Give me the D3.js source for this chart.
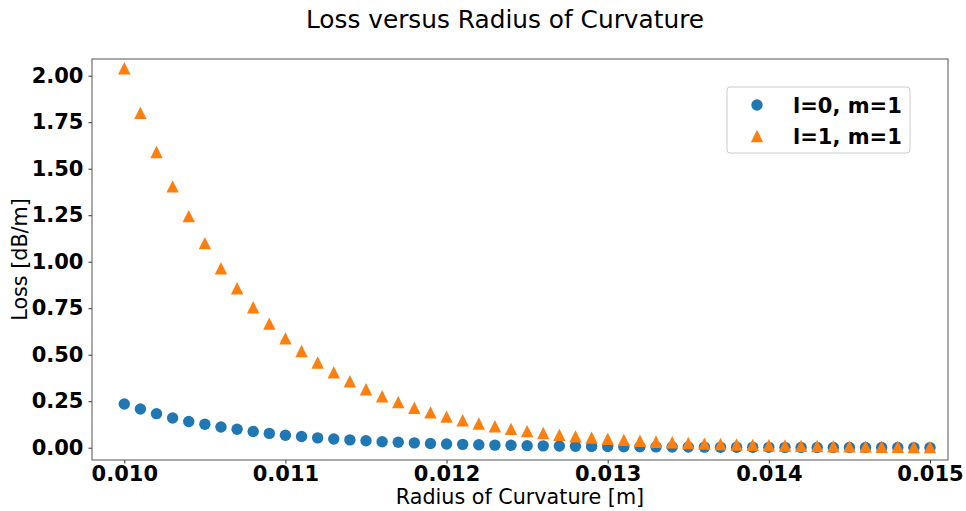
<!DOCTYPE html>
<html>
<head>
<meta charset="utf-8">
<script src="https://cdn.jsdelivr.net/npm/d3@7"></script>
<style>
  body { margin: 0; background: #fff; }
  svg text { font-family: "DejaVu Sans", sans-serif; fill: #000; }
  .tick text { font-weight: bold; font-size: 21px; }
  .tick line { stroke: #333; }
</style>
</head>
<body>
<svg id="chart" width="966" height="511"></svg>
<script>
// radius of curvature [m]
const radii = [
  0.0100, 0.0101, 0.0102, 0.0103, 0.0104, 0.0105, 0.0106, 0.0107, 0.0108, 0.0109,
  0.0110, 0.0111, 0.0112, 0.0113, 0.0114, 0.0115, 0.0116, 0.0117, 0.0118, 0.0119,
  0.0120, 0.0121, 0.0122, 0.0123, 0.0124, 0.0125, 0.0126, 0.0127, 0.0128, 0.0129,
  0.0130, 0.0131, 0.0132, 0.0133, 0.0134, 0.0135, 0.0136, 0.0137, 0.0138, 0.0139,
  0.0140, 0.0141, 0.0142, 0.0143, 0.0144, 0.0145, 0.0146, 0.0147, 0.0148, 0.0149,
  0.0150
];

// loss [dB/m], mode l=0, m=1
const lossL0M1 = [
  0.235, 0.208, 0.183, 0.160, 0.141, 0.126, 0.111, 0.099, 0.087, 0.077,
  0.067, 0.060, 0.053, 0.047, 0.042, 0.037, 0.032, 0.029, 0.026, 0.023,
  0.020, 0.018, 0.016, 0.014, 0.013, 0.011, 0.010, 0.009, 0.008, 0.007,
  0.006, 0.0055, 0.005, 0.0045, 0.004, 0.0035, 0.003, 0.0028, 0.0025, 0.0022,
  0.002, 0.0018, 0.0016, 0.0014, 0.0013, 0.0011, 0.001, 0.0009, 0.0008, 0.0007,
  0.0006
];

// loss [dB/m], mode l=1, m=1
const lossL1M1 = [
  2.04, 1.80, 1.59, 1.405, 1.245, 1.10, 0.965, 0.857, 0.755, 0.667,
  0.588, 0.52, 0.458, 0.405, 0.357, 0.314, 0.277, 0.245, 0.215, 0.19,
  0.167, 0.148, 0.130, 0.115, 0.101, 0.089, 0.079, 0.069, 0.061, 0.054,
  0.048, 0.042, 0.037, 0.032, 0.029, 0.025, 0.022, 0.020, 0.017, 0.015,
  0.013, 0.012, 0.010, 0.009, 0.008, 0.007, 0.006, 0.0055, 0.005, 0.004,
  0.004
];

const xTicks = [0.010, 0.011, 0.012, 0.013, 0.014, 0.015];
const yTicks = [0, 0.25, 0.5, 0.75, 1.0, 1.25, 1.5, 1.75, 2.0];
const seriesNames = ["l=0, m=1", "l=1, m=1"];
const colors = ["#1f77b4", "#ff7f0e"];

const svg = d3.select("#chart");
const margin = { top: 59, right: 18, bottom: 51, left: 92 };
const width = 966 - margin.left - margin.right;
const height = 511 - margin.top - margin.bottom;

const x = d3.scaleLinear().domain([0.0097996, 0.0151117]).range([0, width]);
const y = d3.scaleLinear().domain([-0.0661, 2.0898]).range([height, 0]);

const g = svg.append("g").attr("transform", `translate(${margin.left},${margin.top})`);

// axes
const xAxis = g.append("g")
  .attr("transform", `translate(0,${height})`)
  .call(d3.axisBottom(x).tickValues(xTicks).tickFormat(d3.format(".3f")).tickSize(3.5).tickPadding(2.5));
const yAxis = g.append("g")
  .call(d3.axisLeft(y).tickValues(yTicks).tickFormat(d3.format(".2f")).tickSize(3.5).tickPadding(5));
xAxis.select(".domain").remove();
yAxis.select(".domain").remove();

// frame
g.append("rect")
  .attr("width", width).attr("height", height)
  .attr("fill", "none").attr("stroke", "#555").attr("stroke-width", 1);

// markers
const tri = (s) => `M0,${-s}L${s},${s}L${-s},${s}Z`;

g.append("g").selectAll("circle")
  .data(radii.map((r, i) => [r, lossL0M1[i]]))
  .join("circle")
  .attr("cx", d => x(d[0]))
  .attr("cy", d => y(d[1]))
  .attr("r", 5.7)
  .attr("fill", colors[0]);

g.append("g").selectAll("path")
  .data(radii.map((r, i) => [r, lossL1M1[i]]))
  .join("path")
  .attr("transform", d => `translate(${x(d[0])},${y(d[1])})`)
  .attr("d", tri(6.2))
  .attr("fill", colors[1]);

// legend
const legend = g.append("g").attr("transform", "translate(635,28)");
legend.append("rect")
  .attr("width", 183).attr("height", 66).attr("rx", 3)
  .attr("fill", "#fff").attr("fill-opacity", 0.8)
  .attr("stroke", "#ccc").attr("stroke-width", 1);
seriesNames.forEach((name, i) => {
  const row = legend.append("g").attr("transform", `translate(30,${18 + i * 31})`);
  if (i === 0) row.append("circle").attr("r", 5.7).attr("fill", colors[0]);
  else row.append("path").attr("d", tri(6.2)).attr("fill", colors[1]);
  row.append("text")
    .attr("x", 36).attr("y", 7.5)
    .attr("font-size", 21).attr("font-weight", "bold")
    .text(name);
});

// labels
svg.append("text")
  .attr("x", 505).attr("y", 28)
  .attr("text-anchor", "middle").attr("font-size", 24.8)
  .text("Loss versus Radius of Curvature");
svg.append("text")
  .attr("x", margin.left + width / 2).attr("y", 504)
  .attr("text-anchor", "middle").attr("font-size", 20.7)
  .text("Radius of Curvature [m]");
svg.append("text")
  .attr("transform", `translate(27,${margin.top + height / 2}) rotate(-90)`)
  .attr("text-anchor", "middle").attr("font-size", 20.7)
  .text("Loss [dB/m]");
</script>
</body>
</html>
